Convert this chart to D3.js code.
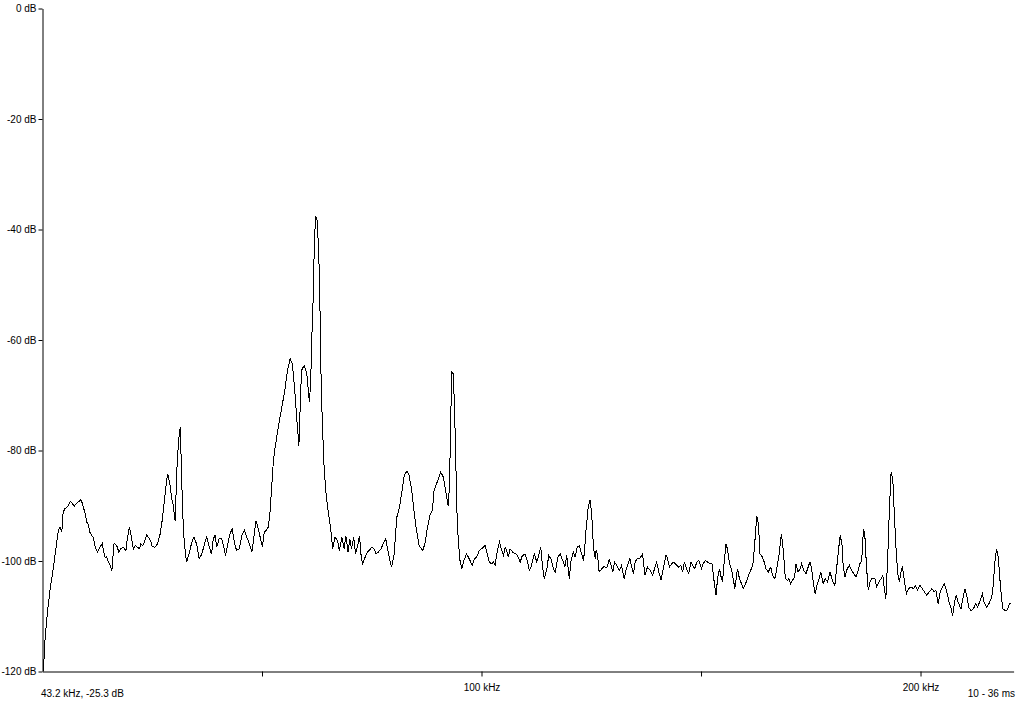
<!DOCTYPE html>
<html>
  <head>
    <meta charset="utf-8">
    <script src="https://d3js.org/d3.v7.min.js"></script>
    <title>Spectrum</title>
    <style>
      body {
        margin: 0px;
        background: #fff;
      }
      .tick text, .info-label {
        fill: #000;
        font-size: 10px;
        font-family: 'Liberation Sans', Arial, sans-serif;
      }
      .domain, .tick line {
        stroke: #000;
      }
    </style>
  </head>
  <body>
    <svg width="1018" height="706"></svg>
    <script>
      // spectrum: [frequency kHz, level dB]
      const spectrum = [
        [0.2, -120], [0.6, -113.8], [1.1, -109.5], [1.7, -105.3], [2.5, -101.1], [3.1, -97.5], [3.6, -94.5], [4.0, -93.9],
        [4.4, -94.8], [4.7, -91.2], [5.1, -90.5], [5.5, -90.3], [5.9, -90.0], [6.3, -89.2], [6.8, -89.6], [7.2, -90.1],
        [7.8, -89.5], [8.2, -89.3], [8.7, -88.9], [9.1, -89.6], [9.7, -91.4], [10.1, -93.0], [10.4, -93.3], [10.8, -94.8],
        [11.2, -95.4], [11.6, -95.7], [12.0, -97.5], [12.5, -98.4], [13.1, -97.5], [13.6, -96.8], [14.0, -98.6], [14.3, -99.4],
        [14.6, -99.2], [15.0, -100.2], [15.4, -100.8], [15.8, -101.7], [16.3, -96.8], [16.9, -97.2], [17.4, -98.4], [17.8, -97.8],
        [18.4, -97.5], [19.0, -98.1], [19.3, -96.0], [19.8, -93.9], [20.2, -95.4], [20.7, -97.8], [21.1, -97.2], [21.6, -97.5],
        [22.1, -97.8], [22.4, -96.9], [22.8, -97.2], [23.2, -96.6], [23.7, -95.3], [24.2, -95.8], [24.6, -96.3], [25.0, -97.4],
        [25.6, -97.5], [26.0, -97.2], [26.4, -96.3], [26.8, -95.1], [27.2, -93.0], [27.7, -89.6], [28.1, -86.6], [28.5, -84.2],
        [29.0, -86.0], [29.4, -88.5], [29.8, -90.0], [30.2, -92.7], [30.7, -81.8], [31.2, -76.4], [31.4, -75.8], [31.7, -85.4],
        [32.1, -94.5], [32.4, -97.5], [32.8, -100.2], [33.4, -98.7], [34.0, -96.6], [34.5, -95.7], [35.1, -96.9], [35.7, -99.6],
        [36.3, -98.7], [36.8, -97.2], [37.4, -95.6], [37.9, -97.2], [38.5, -98.8], [38.9, -96.0], [39.3, -95.4], [39.7, -97.5],
        [40.2, -96.0], [40.8, -96.0], [41.2, -97.2], [41.7, -99.0], [42.2, -96.9], [42.7, -95.1], [43.2, -94.2], [43.7, -96.6],
        [44.2, -98.1], [44.8, -97.8], [45.4, -95.4], [46.0, -94.4], [46.5, -95.7], [47.0, -96.6], [47.7, -98.3], [48.1, -96.0],
        [48.6, -92.7], [49.0, -93.7], [49.5, -95.4], [50.1, -97.5], [50.5, -94.8], [50.9, -94.5], [51.4, -93.9], [51.8, -91.5],
        [52.2, -86.6], [52.6, -81.8], [53.0, -79.4], [53.7, -75.8], [54.5, -72.2], [55.2, -69.1], [55.8, -65.5], [56.4, -63.4],
        [56.9, -64.3], [57.4, -68.5], [57.9, -74.0], [58.4, -79.1], [58.7, -72.2], [59.0, -65.5], [59.6, -64.6], [60.2, -66.1],
        [60.8, -71.3], [61.1, -67.3], [61.3, -60.7], [61.7, -51.6], [61.9, -43.2], [62.2, -37.5], [62.6, -38.4], [63.1, -48.6],
        [63.4, -64.9], [63.7, -74.0], [64.1, -82.4], [64.5, -87.2], [65.1, -91.2], [65.6, -93.9], [66.1, -97.8], [66.6, -95.7],
        [67.2, -96.3], [67.6, -98.1], [68.2, -95.7], [68.7, -97.8], [69.1, -95.4], [69.6, -98.4], [70.0, -96.0], [70.4, -97.8],
        [70.9, -95.7], [71.3, -98.7], [71.8, -97.2], [72.2, -95.4], [72.6, -99.3], [72.9, -100.5], [73.5, -99.3], [74.0, -98.4],
        [74.4, -98.1], [75.0, -97.5], [75.5, -97.8], [76.0, -98.7], [76.5, -98.4], [77.1, -97.8], [77.6, -96.9], [78.2, -96.0],
        [78.8, -98.7], [79.5, -101.1], [80.1, -98.7], [80.7, -92.1], [81.3, -90.3], [81.8, -87.8], [82.4, -84.5], [83.0, -83.7],
        [83.5, -84.5], [84.1, -87.2], [84.6, -90.9], [85.2, -94.5], [85.8, -97.2], [86.6, -98.1], [87.1, -96.9], [87.7, -93.9],
        [88.3, -91.5], [88.8, -90.9], [89.2, -87.2], [89.9, -85.7], [90.7, -83.9], [91.3, -84.8], [91.8, -87.2], [92.4, -90.0],
        [92.7, -86.6], [93.0, -74.0], [93.2, -65.8], [93.6, -66.1], [94.0, -77.0], [94.4, -90.9], [94.7, -96.3], [95.1, -99.9],
        [95.5, -101.4], [96.0, -99.9], [96.6, -98.7], [97.2, -99.6], [97.9, -100.8], [98.4, -99.6], [98.9, -99.3], [99.5, -98.1],
        [100.0, -97.8], [100.8, -97.2], [101.2, -98.4], [101.8, -100.2], [102.3, -100.5], [102.7, -100.2], [103.1, -100.8], [103.6, -98.1],
        [104.1, -96.6], [104.5, -97.8], [105.0, -99.0], [105.4, -97.5], [105.7, -98.1], [106.1, -99.3], [106.5, -97.8], [107.1, -98.4],
        [107.6, -98.6], [108.2, -99.0], [108.8, -100.2], [109.3, -99.0], [109.9, -98.8], [110.4, -99.9], [110.9, -101.7], [111.4, -100.8],
        [112.0, -98.7], [112.6, -100.2], [113.0, -99.0], [113.5, -97.5], [113.9, -101.1], [114.3, -103.2], [114.9, -101.4], [115.3, -99.0],
        [115.8, -99.6], [116.4, -101.4], [116.8, -102.0], [117.4, -99.3], [117.9, -98.7], [118.5, -99.9], [119.0, -101.1], [119.4, -99.0],
        [120.0, -103.2], [120.4, -99.9], [120.9, -98.4], [121.3, -99.3], [121.8, -97.5], [122.3, -97.2], [122.7, -98.4], [123.2, -99.9],
        [123.4, -98.7], [123.8, -94.5], [124.3, -90.3], [124.7, -88.9], [125.1, -91.5], [125.5, -97.5], [125.9, -99.6], [126.1, -98.1],
        [126.4, -98.7], [126.8, -102.0], [127.4, -101.4], [127.9, -101.0], [128.4, -101.2], [128.7, -101.0], [129.1, -99.6], [129.5, -100.8],
        [129.9, -102.0], [130.3, -100.2], [130.6, -100.5], [131.0, -101.1], [131.4, -101.7], [131.9, -100.8], [132.5, -103.2], [132.9, -101.7],
        [133.4, -100.5], [133.8, -99.6], [134.2, -101.1], [134.6, -102.3], [135.0, -100.2], [135.4, -99.6], [136.0, -99.6], [136.7, -98.7],
        [137.2, -102.6], [137.8, -101.1], [138.4, -101.7], [139.0, -102.6], [139.5, -101.1], [139.9, -100.2], [140.4, -102.0], [140.9, -103.5],
        [141.4, -101.4], [142.0, -99.0], [142.3, -99.3], [142.8, -101.1], [143.3, -100.5], [143.8, -100.2], [144.5, -100.8], [144.9, -101.1],
        [145.4, -100.8], [145.8, -102.0], [146.2, -100.2], [146.7, -101.4], [147.2, -102.2], [147.7, -100.2], [148.1, -100.8], [148.6, -101.4],
        [149.0, -100.2], [149.5, -99.9], [150.1, -101.4], [150.5, -100.5], [151.0, -99.9], [151.5, -100.2], [152.0, -100.5], [152.5, -100.5],
        [153.0, -103.8], [153.4, -106.2], [153.8, -103.0], [154.2, -101.4], [154.6, -103.0], [154.9, -103.8], [155.3, -99.9], [155.7, -96.9],
        [156.0, -97.8], [156.5, -100.5], [156.9, -101.4], [157.4, -103.5], [157.7, -105.0], [158.3, -101.4], [158.7, -103.0], [159.2, -104.1],
        [159.6, -105.0], [160.3, -103.8], [160.8, -102.6], [161.3, -101.7], [161.8, -100.8], [162.1, -98.1], [162.4, -95.1], [162.7, -91.9],
        [163.1, -93.3], [163.4, -98.7], [163.8, -99.0], [164.4, -100.2], [164.8, -101.4], [165.3, -102.0], [165.9, -101.1], [166.3, -102.6],
        [166.8, -103.2], [167.2, -101.7], [167.8, -98.7], [168.3, -95.1], [168.6, -96.9], [169.0, -100.8], [169.2, -103.2], [169.7, -103.5],
        [170.0, -103.2], [170.4, -104.1], [170.8, -103.5], [171.3, -103.0], [171.6, -100.5], [172.1, -102.0], [172.6, -101.4], [172.9, -100.5],
        [173.4, -101.7], [173.9, -102.3], [174.4, -101.1], [174.8, -100.2], [175.2, -101.4], [175.6, -104.1], [176.0, -105.9], [176.5, -104.1],
        [176.9, -103.2], [177.3, -102.0], [177.8, -104.1], [178.3, -103.2], [178.8, -103.8], [179.4, -102.0], [179.9, -103.5], [180.5, -104.4],
        [181.3, -98.1], [181.7, -95.4], [182.1, -96.9], [182.4, -101.1], [182.8, -102.9], [183.3, -101.4], [183.8, -100.8], [184.3, -101.7],
        [184.8, -102.3], [185.3, -102.9], [185.8, -101.7], [186.2, -100.5], [186.6, -99.9], [187.0, -94.2], [187.3, -95.1], [187.7, -101.1],
        [188.1, -105.3], [188.5, -103.8], [188.9, -103.2], [189.6, -103.2], [190.0, -104.7], [190.5, -103.8], [191.0, -103.2], [191.4, -102.6],
        [191.8, -105.3], [192.1, -106.8], [192.5, -99.9], [192.9, -90.9], [193.3, -83.9], [193.7, -85.4], [194.0, -90.9], [194.4, -97.5],
        [194.8, -102.3], [195.2, -103.8], [195.6, -101.7], [195.9, -101.1], [196.3, -103.5], [196.8, -105.9], [197.3, -105.0], [197.8, -104.7],
        [198.4, -105.0], [198.8, -104.4], [199.3, -105.3], [199.9, -104.4], [200.4, -105.0], [200.9, -105.6], [201.4, -106.2], [202.0, -105.6],
        [202.6, -105.0], [203.1, -105.6], [203.5, -105.3], [204.0, -107.7], [204.5, -105.6], [205.0, -104.7], [205.4, -104.1], [206.0, -105.6],
        [206.5, -107.5], [206.9, -108.4], [207.3, -109.9], [207.7, -107.7], [208.1, -106.2], [208.6, -107.5], [209.2, -108.7], [209.7, -106.6],
        [210.1, -105.0], [210.5, -106.2], [211.0, -108.4], [211.5, -109.0], [212.0, -108.7], [212.6, -107.7], [213.0, -108.4], [213.6, -107.1],
        [214.1, -105.9], [214.5, -107.5], [215.1, -108.4], [215.6, -107.7], [216.2, -106.6], [216.6, -104.1], [216.9, -100.5], [217.3, -97.8],
        [217.7, -99.3], [218.1, -103.5], [218.5, -107.1], [218.8, -108.7], [219.4, -109.0], [219.8, -108.8], [220.2, -107.9], [220.5, -107.6]
      ];

      const dbTicks = [0, -20, -40, -60, -80, -100, -120];
      const khzTicks = [50, 100, 150, 200];
      const khzLabels = { 100: '100 kHz', 200: '200 kHz' };
      const cursorText = '43.2 kHz, -25.3 dB';
      const rangeText = '10 - 36 ms';

      const svg = d3.select('svg');
      const width = +svg.attr('width');

      const xScale = d3.scaleLinear()
        .domain([0, 221.2])
        .range([42.5, 1013.6]);
      const yScale = d3.scaleLinear()
        .domain([-120, 0])
        .range([671.5, 8.5]);

      const yAxis = d3.axisLeft(yScale)
        .tickValues(dbTicks)
        .tickSize(4)
        .tickSizeOuter(0)
        .tickPadding(2)
        .tickFormat(d => d + ' dB');

      const xAxis = d3.axisBottom(xScale)
        .tickValues(khzTicks)
        .tickSize(5)
        .tickSizeOuter(0)
        .tickPadding(7)
        .tickFormat(d => khzLabels[d] || '');

      svg.append('g')
        .attr('transform', `translate(${xScale(0)},0)`)
        .call(yAxis);
      svg.append('g')
        .attr('transform', `translate(0,${yScale(-120)})`)
        .call(xAxis);

      svg.selectAll('g.tick text')
        .attr('font-family', null)
        .attr('font-size', null);

      const line = d3.line()
        .x(d => xScale(d[0]))
        .y(d => yScale(d[1]));

      // aliased look like the original plot
      svg.append('path')
        .datum(spectrum)
        .attr('fill', 'none')
        .attr('stroke', '#000')
        .attr('stroke-width', 1)
        .attr('shape-rendering', 'crispEdges')
        .attr('d', line);

      svg.append('text')
        .attr('class', 'info-label')
        .attr('x', 41)
        .attr('y', 697)
        .text(cursorText);

      svg.append('text')
        .attr('class', 'info-label')
        .attr('x', width - 3)
        .attr('y', 697)
        .attr('text-anchor', 'end')
        .text(rangeText);
    </script>
  </body>
</html>
